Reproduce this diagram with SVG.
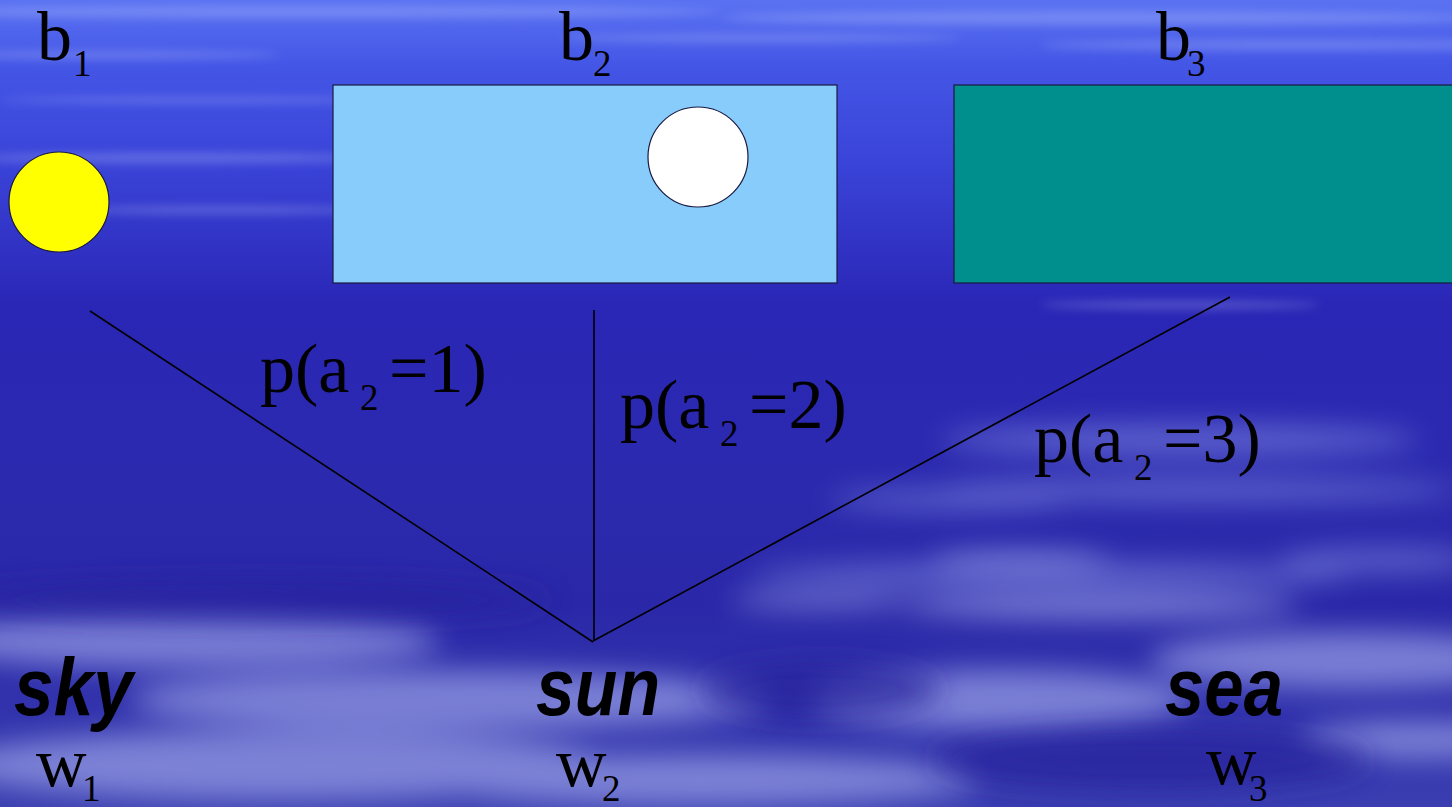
<svg xmlns="http://www.w3.org/2000/svg" width="1452" height="807" viewBox="0 0 1452 807">
  <defs>
    <linearGradient id="sky" x1="0" y1="0" x2="0" y2="1">
      <stop offset="0" stop-color="#5a72f2"/>
      <stop offset="0.08" stop-color="#4456e6"/>
      <stop offset="0.2" stop-color="#3a44d8"/>
      <stop offset="0.38" stop-color="#2a26b6"/>
      <stop offset="0.6" stop-color="#2b2aae"/>
      <stop offset="0.75" stop-color="#2a28a8"/>
      <stop offset="1" stop-color="#3a3eb0"/>
    </linearGradient>
    <filter id="blur" x="-20%" y="-50%" width="140%" height="200%">
      <feGaussianBlur stdDeviation="14"/>
    </filter>
    <filter id="blur2" x="-20%" y="-100%" width="140%" height="300%">
      <feGaussianBlur stdDeviation="5"/>
    </filter>
    <style>
      .serif { font-family: "Liberation Serif", "Times New Roman", serif; fill: #000; }
      .main { font-size: 70px; }
      .sub { font-size: 37px; }
      .word { font-family: "Liberation Sans", Arial, sans-serif; font-weight: bold; font-style: italic; font-size: 82px; fill: #000; }
      .conn { stroke: #000; stroke-width: 1.6; fill: none; }
      .shape { stroke: #1a1a40; stroke-width: 1.2; }
    </style>
  </defs>

  <!-- background -->
  <g id="background">
    <rect x="0" y="0" width="1452" height="807" fill="url(#sky)"/>
    <g fill="#c8d4ff" opacity="0.28" filter="url(#blur2)">
      <ellipse cx="300" cy="12" rx="420" ry="6"/>
      <ellipse cx="1100" cy="18" rx="380" ry="7"/>
      <ellipse cx="1300" cy="45" rx="260" ry="5"/>
      <ellipse cx="760" cy="38" rx="200" ry="4"/>
      <ellipse cx="170" cy="158" rx="200" ry="5"/>
      <ellipse cx="100" cy="55" rx="180" ry="4"/>
      <ellipse cx="220" cy="210" rx="150" ry="4"/>
      <ellipse cx="200" cy="100" rx="200" ry="3"/>
      <ellipse cx="1180" cy="305" rx="140" ry="4"/>
    </g>
    <g fill="#9aa4f0" opacity="0.45" filter="url(#blur)">
      <ellipse cx="1180" cy="440" rx="240" ry="16"/>
      <ellipse cx="1200" cy="490" rx="260" ry="12"/>
      <ellipse cx="950" cy="500" rx="120" ry="10"/>
      <ellipse cx="1050" cy="575" rx="300" ry="14"/>
      <ellipse cx="1380" cy="560" rx="100" ry="12"/>
    </g>
    <g fill="#aab2f0" opacity="0.6" filter="url(#blur)">
      <ellipse cx="180" cy="640" rx="260" ry="28"/>
      <ellipse cx="450" cy="700" rx="320" ry="30"/>
      <ellipse cx="280" cy="765" rx="330" ry="35"/>
      <ellipse cx="700" cy="780" rx="280" ry="25"/>
      <ellipse cx="1000" cy="700" rx="190" ry="30"/>
      <ellipse cx="1100" cy="605" rx="200" ry="14"/>
      <ellipse cx="1350" cy="660" rx="200" ry="28"/>
      <ellipse cx="1420" cy="740" rx="120" ry="18"/>
      <ellipse cx="1020" cy="560" rx="90" ry="8"/>
      <ellipse cx="820" cy="600" rx="90" ry="8"/>
    </g>
    <g fill="#26229c" opacity="0.7" filter="url(#blur)">
      <ellipse cx="820" cy="690" rx="120" ry="28"/>
      <ellipse cx="1150" cy="760" rx="220" ry="30"/>
      <ellipse cx="250" cy="600" rx="300" ry="20"/>
    </g>
  </g>

  <!-- connectors -->
  <g id="connectors">
    <line class="conn" x1="90" y1="311" x2="593" y2="642"/>
    <line class="conn" x1="594" y1="310" x2="594" y2="641"/>
    <line class="conn" x1="1230" y1="297" x2="593" y2="641"/>
  </g>

  <!-- node b1 -->
  <g id="b1">
    <circle class="shape" cx="59" cy="202" r="50" fill="#ffff00"/>
    <text class="serif main" x="37" y="60">b</text>
    <text class="serif sub" x="73" y="76">1</text>
  </g>

  <!-- node b2 -->
  <g id="b2">
    <rect class="shape" x="333" y="85" width="504" height="198" fill="#88ccfc"/>
    <circle class="shape" cx="698" cy="157" r="50" fill="#ffffff"/>
    <text class="serif main" x="559" y="60">b</text>
    <text class="serif sub" x="593" y="76">2</text>
  </g>

  <!-- node b3 -->
  <g id="b3">
    <rect class="shape" x="954" y="85" width="510" height="198" fill="#008f8c"/>
    <text class="serif main" x="1156" y="60">b</text>
    <text class="serif sub" x="1187" y="76">3</text>
  </g>

  <!-- edge labels -->
  <g id="label1">
    <text class="serif main" x="260" y="392">p(a</text>
    <text class="serif sub" x="360" y="410">2</text>
    <text class="serif main" x="389" y="392">=1)</text>
  </g>
  <g id="label2">
    <text class="serif main" x="620" y="428">p(a</text>
    <text class="serif sub" x="720" y="446">2</text>
    <text class="serif main" x="749" y="428">=2)</text>
  </g>
  <g id="label3">
    <text class="serif main" x="1034" y="462">p(a</text>
    <text class="serif sub" x="1134" y="480">2</text>
    <text class="serif main" x="1163" y="462">=3)</text>
  </g>

  <!-- word nodes -->
  <g id="w1">
    <text class="word" x="14" y="715" textLength="119" lengthAdjust="spacingAndGlyphs">sky</text>
    <text class="serif main" x="36" y="786">w</text>
    <text class="serif sub" x="82" y="801">1</text>
  </g>
  <g id="w2">
    <text class="word" x="536" y="715" textLength="124" lengthAdjust="spacingAndGlyphs">sun</text>
    <text class="serif main" x="556" y="786">w</text>
    <text class="serif sub" x="602" y="801">2</text>
  </g>
  <g id="w3">
    <text class="word" x="1165" y="715" textLength="118" lengthAdjust="spacingAndGlyphs">sea</text>
    <text class="serif main" x="1206" y="784">w</text>
    <text class="serif sub" x="1249" y="801">3</text>
  </g>
</svg>
